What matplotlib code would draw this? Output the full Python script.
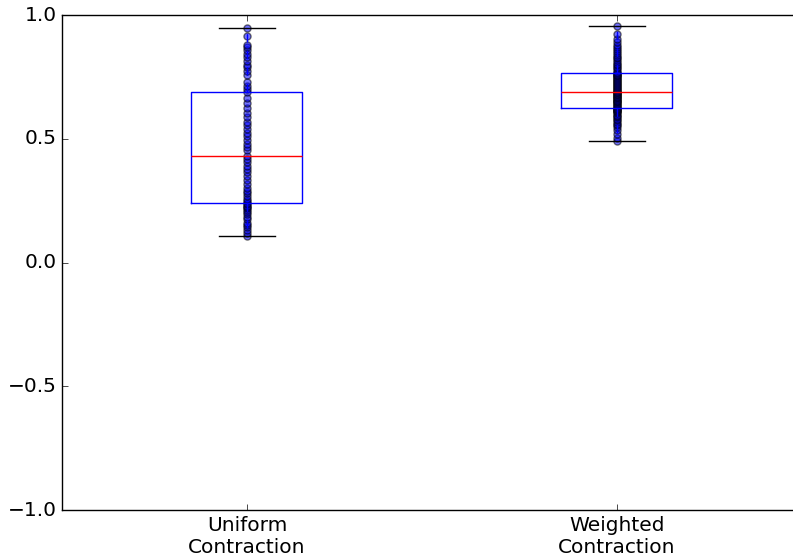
import matplotlib
matplotlib.use("Agg")
import matplotlib.pyplot as plt

labels = ["Uniform\nContraction", "Weighted\nContraction"]

uniform = [0.107, 0.118, 0.13, 0.142, 0.15, 0.162, 0.175, 0.183, 0.195, 0.203,
           0.212, 0.22, 0.225, 0.23, 0.236, 0.24, 0.248, 0.256, 0.27, 0.283,
           0.29, 0.30, 0.318, 0.335, 0.35, 0.365, 0.38, 0.392, 0.405, 0.418,
           0.43, 0.455, 0.468, 0.48, 0.495, 0.51, 0.525, 0.54, 0.555, 0.57,
           0.59, 0.605, 0.625, 0.645, 0.665, 0.69, 0.70, 0.715, 0.73, 0.76,
           0.775, 0.79, 0.80, 0.815, 0.83, 0.845, 0.86, 0.872, 0.88, 0.915,
           0.947]

weighted = [0.491, 0.505, 0.52, 0.535, 0.548, 0.556, 0.562, 0.57, 0.576, 0.582,
            0.588, 0.593, 0.598, 0.603, 0.607, 0.611, 0.614, 0.617, 0.62, 0.622,
            0.624, 0.628, 0.632, 0.636, 0.64, 0.644, 0.648, 0.652, 0.655, 0.659,
            0.662, 0.665, 0.668, 0.671, 0.674, 0.677, 0.68, 0.683, 0.685, 0.688,
            0.69, 0.694, 0.698, 0.702, 0.706, 0.71, 0.714, 0.718, 0.722, 0.726,
            0.73, 0.734, 0.738, 0.742, 0.746, 0.75, 0.754, 0.757, 0.76, 0.763,
            0.766, 0.772, 0.778, 0.785, 0.79, 0.797, 0.803, 0.81, 0.818, 0.825,
            0.832, 0.84, 0.848, 0.855, 0.862, 0.87, 0.88, 0.89, 0.905, 0.925,
            0.955]

plt.style.use("classic")
plt.rcParams["font.size"] = 14.5
fig = plt.figure(figsize=(7.93, 5.56), dpi=100)
fig.patch.set_facecolor("white")
ax = fig.add_axes([0.0782, 0.0827, 0.933, 0.890])

data = [uniform, weighted]
ax.boxplot(data, widths=0.3)
for i, vals in enumerate(data):
    ax.scatter([i + 1] * len(vals), vals, c="b", alpha=0.55, s=26)

ax.set_xlim(0.5, 2.5)
ax.set_ylim(-1, 1)
ax.set_yticks([-1.0, -0.5, 0.0, 0.5, 1.0])
ax.set_xticks([1, 2])
ax.set_xticklabels(labels)
ax.spines["right"].set_visible(False)
ax.yaxis.set_ticks_position("left")

fig.savefig("out.png", dpi=100, facecolor="white")
